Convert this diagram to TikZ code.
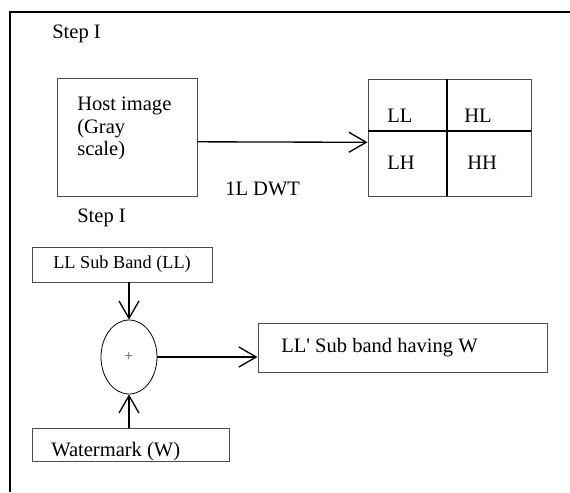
\documentclass[tikz,border=0pt]{standalone}
\usepackage{fontspec}
\setmainfont{Liberation Serif}
\usetikzlibrary{shapes.geometric,arrows.meta}
\begin{document}
\begin{tikzpicture}[x=0.75pt,y=-0.75pt,
    box/.style={draw=black!70, line width=0.7pt, inner sep=0pt},
    arr/.style={line width=1pt, -{Straight Barb[length=13pt,width=15pt,line width=1pt]}},
    txt/.style={anchor=base west, inner sep=0pt, font=\fontsize{15.4}{16.9}\selectfont}]
    \useasboundingbox (0,0) rectangle (570,492);
    % Frame (top and left edges only)
    \draw[line width=1.5pt] (570,12) -- (10,12) -- (10,492);

    % Step one: host image and its 1L DWT bands
    \node[txt] (step1) at (52,39) {Step I};
    \node[box, minimum width=105pt, minimum height=88.5pt] (host) at (127,137) {};
    \node[txt, anchor=north west, align=left] (hosttxt) at (77,97) {Host image\\(Gray\\scale)};
    \node[box, minimum width=122.25pt, minimum height=87.75pt] (bands) at (449.5,137.5) {};
    \draw[line width=1pt] ([xshift=-1.9pt]bands.north) -- ([xshift=-1.9pt]bands.south);
    \draw[line width=1pt] ([yshift=4.9pt]bands.west) -- ([yshift=4.9pt]bands.east);
    \node[txt] (ll) at (387,122) {LL};
    \node[txt] (hl) at (464,122) {HL};
    \node[txt] (lh) at (387,169) {LH};
    \node[txt] (hh) at (467,169) {HH};
    \draw[arr] ([yshift=-3.6pt]host.east) -- ([yshift=-3.6pt]bands.west);
    \node[txt] (dwt) at (225,195) {1L DWT};
    \node[txt] (step2) at (77,222) {Step I};

    % Step two: embedding the watermark
    \node[box, minimum width=135pt, minimum height=26.25pt, font=\fontsize{13.7}{15}\selectfont] (llband) at (122,264.5) {LL Sub Band (LL)};
    \node[draw, ellipse, line width=0.6pt, minimum width=42pt, minimum height=55.5pt, inner sep=0pt, text=black!65, font=\fontsize{12}{14}\selectfont] (sum) at (129,357) {+};
    \node[box, minimum width=216.75pt, minimum height=36.75pt] (llw) at (402.5,347.5) {};
    \node[txt] (llwtxt) at (281,352) {LL{\textquotesingle} Sub band having W};
    \node[box, minimum width=147.75pt, minimum height=24.75pt] (wm) at (130.5,444.5) {};
    \node[txt] (wmtxt) at (51,456) {Watermark (W)};

    % Arrows
    \draw[arr] (llband.south -| sum) -- (sum.north);
    \draw[arr] (wm.north -| sum) -- (sum.south);
    \draw[arr] (sum.east) -- (sum.east -| llw.west);
\end{tikzpicture}
\end{document}
